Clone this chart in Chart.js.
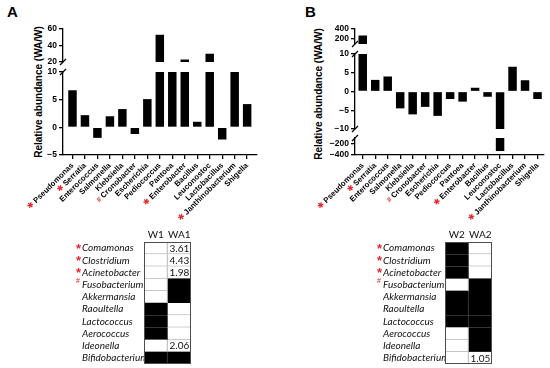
<!DOCTYPE html>
<html>
<head>
<meta charset="utf-8">
<script src="https://cdn.jsdelivr.net/npm/chart.js@4.4.1/dist/chart.umd.min.js"></script>
<style>
  html, body { margin: 0; padding: 0; background: #fff; }
  body { position: relative; width: 550px; height: 368px; overflow: hidden; font-family: "Liberation Sans", Arial, sans-serif; }
  canvas { position: absolute; }
  .letter { position: absolute; font: bold 15px "Liberation Sans", Arial, sans-serif; color: #000; }
  .ytitle { position: absolute; width: 170px; height: 12px; line-height: 12px; text-align: center; white-space: nowrap;
            font: bold 10px "Liberation Sans", Arial, sans-serif; color: #000; transform: rotate(-90deg); transform-origin: 50% 50%; }
</style>
</head>
<body>
<div class="letter" style="left:7px;top:3px">A</div>
<div class="letter" style="left:305px;top:3px">B</div>
<div class="ytitle" style="left:-46px;top:86px">Relative abundance (WA/W)</div>
<div class="ytitle" style="left:234px;top:88px">Relative abundance (WA/W)</div>

<canvas id="aTop" width="262" height="49" style="left:0px;top:21px"></canvas>
<canvas id="aBot" width="262" height="163" style="left:0px;top:64px"></canvas>
<canvas id="bTop" width="259" height="31" style="left:290px;top:21px"></canvas>
<canvas id="bMid" width="259" height="91" style="left:290px;top:46px"></canvas>
<canvas id="bBot" width="259" height="97" style="left:290px;top:130px"></canvas>
<canvas id="tabA" width="138" height="142" style="left:62px;top:228px"></canvas>
<canvas id="tabB" width="138" height="142" style="left:363px;top:228px"></canvas>

<script>
// ── Data ─────────────────────────────────────────────────────────────────
const genera = ['Pseudomonas', 'Serratia', 'Enterococcus', 'Salmonella', 'Klebsiella', 'Cronobacter',
  'Escherichia', 'Pediococcus', 'Pantoea', 'Enterobacter', 'Bacillus', 'Leuconostoc',
  'Lactobacillus', 'Janthinobacterium', 'Shigella'];
const generaMarks = ['*', '*', '', '', '', '#', '', '', '', '*', '', '', '', '*', ''];

// WA1 / W1 ratios (panel A) and WA2 / W2 ratios (panel B)
const valuesA = [6.7, 2.2, -1.9, 2.0, 3.3, -1.2, 5.1, 53, 14, 23, 1.0, 30, -2.2, 12, 4.2];
const valuesB = [270, 3.1, 4.0, -4.5, -6.1, -4.1, -6.5, -2.0, -2.7, 1.0, -1.4, -330, 6.6, 3.0, -2.0];

const ticksATop = [20, 40, 60];
const ticksABot = [-5, 0, 5, 10];
const ticksBTop = [200, 400];
const ticksBMid = [-10, -5, 0, 5, 10];
const ticksBBot = [-400, -200];

const tableRows = ['Comamonas', 'Clostridium', 'Acinetobacter', 'Fusobacterium', 'Akkermansia',
  'Raoultella', 'Lactococcus', 'Aerococcus', 'Ideonella', 'Bifidobacterium'];
const tableMarks = ['*', '*', '*', '#', '', '', '', '', '', ''];

const headersA = ['W1', 'WA1'];
const fillW1  = [0, 0, 0, 0, 0, 1, 1, 1, 0, 1];   // 1 = black cell
const fillWA1 = [0, 0, 0, 1, 1, 0, 0, 0, 0, 1];
const textWA1 = [3.61, 4.43, 1.98, null, null, null, null, null, 2.06, null];

const headersB = ['W2', 'WA2'];
const fillW2  = [1, 1, 1, 0, 1, 1, 1, 0, 0, 0];
const fillWA2 = [0, 0, 0, 1, 1, 1, 1, 1, 1, 0];
const textWA2 = [null, null, null, null, null, null, null, null, null, 1.05];

// ── Shared bits ──────────────────────────────────────────────────────────
const RED = '#e5262d';
const tickFont = { family: 'Liberation Sans', size: 8.5, weight: 'bold' };
const labelFont = { family: 'Liberation Sans', size: 7.8, weight: 'bold' };
const fmt = v => (v < 0 ? '\u2212' + Math.abs(v) : String(v));

const axisBreak = {
  id: 'axisBreak',
  afterDraw(chart, args, opts) {
    const { ctx, chartArea: a } = chart;
    ctx.save();
    ctx.strokeStyle = '#000';
    ctx.lineWidth = 1.3;
    const slash = y => {
      ctx.beginPath();
      ctx.moveTo(a.left - 3, y + 3);
      ctx.lineTo(a.left + 3, y - 3);
      ctx.stroke();
    };
    if (opts.top) slash(a.top);
    if (opts.bottom) slash(a.bottom);
    ctx.restore();
  }
};

// red * / # in front of rotated genus names
const labelMarks = marks => ({
  id: 'labelMarks',
  afterDraw(chart) {
    const scale = chart.scales.x;
    if (!scale.options.display) return;
    const ctx = chart.ctx;
    scale.getLabelItems().forEach((item, i) => {
      const m = marks[i];
      if (!m) return;
      const o = item.options;
      ctx.save();
      ctx.translate(o.translation[0], o.translation[1]);
      ctx.rotate(o.rotation);
      ctx.font = item.font.string;
      const w = ctx.measureText(item.label).width;
      ctx.font = m === '#' ? 'bold 7px "Liberation Sans"' : '8px "DejaVu Sans"';
      ctx.fillStyle = RED;
      ctx.textAlign = 'right';
      ctx.textBaseline = 'middle';
      ctx.fillText(m === '#' ? '#' : '\u2731', -w - 2, item.textOffset);
      ctx.restore();
    });
  }
});

function makeBars(id, values, seg) {
  return new Chart(document.getElementById(id), {
    type: 'bar',
    data: {
      datasets: [{
        data: values.map((v, i) => ({ x: i, y: v })),
        backgroundColor: '#000',
        barPercentage: 0.68,
        categoryPercentage: 1,
        clip: 0
      }]
    },
    options: {
      responsive: false,
      animation: false,
      events: [],
      layout: { padding: { top: 8, right: 5, bottom: seg.showX ? 0 : 8, left: 0 } },
      plugins: {
        legend: { display: false },
        tooltip: { enabled: false },
        axisBreak: { top: !!seg.breakTop, bottom: !!seg.breakBottom }
      },
      scales: {
        x: {
          type: 'linear',
          display: !!seg.showX,
          min: seg.xMin,
          max: seg.xMax,
          offset: false,
          afterBuildTicks: ax => { ax.ticks = genera.map((_, i) => ({ value: i })); },
          afterFit: ax => { ax.height = seg.showX ? 72 : 0; },
          grid: { offset: false, drawOnChartArea: false, tickLength: 4, color: '#000', lineWidth: 1.3 },
          border: { color: '#000', width: 1.3 },
          ticks: {
            autoSkip: false, minRotation: 45, maxRotation: 45, padding: 2,
            font: labelFont, color: '#000',
            callback: v => genera[v]
          }
        },
        y: {
          min: seg.min,
          max: seg.max,
          afterBuildTicks: ax => { ax.ticks = seg.ticks.map(v => ({ value: v })); },
          afterFit: ax => { ax.width = seg.axisWidth; },
          grid: { drawOnChartArea: false, tickLength: 4, color: '#000', lineWidth: 1.3 },
          border: { color: '#000', width: 1.3 },
          ticks: { font: tickFont, color: '#000', padding: 2, callback: fmt }
        }
      }
    },
    plugins: [axisBreak, labelMarks(generaMarks)]
  });
}

// ── Panel A ──────────────────────────────────────────────────────────────
const xA = { xMin: -0.76, xMax: 14.79, axisWidth: 63 };
makeBars('aTop', valuesA, { ...xA, min: 20, max: 60, ticks: ticksATop, breakBottom: true });
makeBars('aBot', valuesA, { ...xA, min: -5, max: 10, ticks: ticksABot, breakTop: true, showX: true });

// ── Panel B ──────────────────────────────────────────────────────────────
const xB = { xMin: -0.62, xMax: 14.52, axisWidth: 65 };
makeBars('bTop', valuesB, { ...xB, min: 100, max: 400, ticks: ticksBTop, breakBottom: true });
makeBars('bMid', valuesB, { ...xB, min: -10, max: 10, ticks: ticksBMid, breakTop: true, breakBottom: true });
makeBars('bBot', valuesB, { ...xB, min: -400, max: -100, ticks: ticksBBot, breakTop: true, showX: true });

// ── Presence tables ──────────────────────────────────────────────────────
const cellText = {
  id: 'cellText',
  afterDatasetsDraw(chart) {
    const ctx = chart.ctx;
    const a = chart.chartArea;
    chart.data.datasets.forEach((ds, di) => {
      if (!ds.cellText) return;
      chart.getDatasetMeta(di).data.forEach((bar, i) => {
        const v = ds.cellText[i];
        if (v == null) return;
        ctx.save();
        ctx.font = '10px Lato';
        ctx.fillStyle = '#111';
        ctx.textBaseline = 'middle';
        ctx.fillText(v.toFixed(2), Math.min(bar.x, bar.base) + 2, bar.y + 0.5);
        ctx.restore();
      });
    });
    ctx.save();
    ctx.strokeStyle = '#4d4d4d';
    ctx.lineWidth = 1;
    ctx.strokeRect(Math.round(a.left) + 0.5, Math.round(a.top) + 0.5,
      Math.round(a.right - a.left) - 1, Math.round(a.bottom - a.top) - 1);
    ctx.restore();
  }
};

const rowMarks = {
  id: 'rowMarks',
  afterDraw(chart) {
    const ctx = chart.ctx;
    chart.scales.y.getLabelItems().forEach((item, i) => {
      const m = tableMarks[i];
      if (!m) return;
      const [x, y] = item.options.translation;
      ctx.save();
      ctx.fillStyle = RED;
      ctx.textAlign = 'right';
      ctx.textBaseline = 'middle';
      if (m === '#') {
        ctx.font = '7px "Liberation Sans"';
        ctx.fillText('#', x - 2, y - 4);
      } else {
        ctx.font = 'bold 13px "Liberation Sans"';
        ctx.fillText('*', x - 1, y + 1);
      }
      ctx.restore();
    });
  }
};

function makeTable(id, headers, fills, texts) {
  return new Chart(document.getElementById(id), {
    type: 'bar',
    data: {
      labels: tableRows,
      datasets: fills.map((f, c) => ({
        data: tableRows.map(() => [c, c + 1]),
        backgroundColor: f.map(v => (v ? '#000' : '#fff')),
        borderColor: f.map(v => (v ? '#000' : '#a9a9a9')),
        borderWidth: { top: 0, left: 0, right: 1, bottom: 1 },
        borderSkipped: false,
        grouped: false,
        barPercentage: 1,
        categoryPercentage: 1,
        cellText: texts[c]
      }))
    },
    options: {
      indexAxis: 'y',
      responsive: false,
      animation: false,
      events: [],
      layout: { padding: { left: 20, right: 9, top: 0, bottom: 6 } },
      plugins: { legend: { display: false }, tooltip: { enabled: false } },
      scales: {
        x: {
          type: 'linear', position: 'top', min: 0, max: 2,
          afterBuildTicks: ax => { ax.ticks = [{ value: 0.5 }, { value: 1.5 }]; },
          afterFit: ax => { ax.height = 14; },
          grid: { display: false, drawTicks: false },
          border: { display: false },
          ticks: { maxRotation: 0, padding: 1, color: '#111', font: { family: 'Lato', size: 10 },
                   callback: v => headers[Math.floor(v)] }
        },
        y: {
          afterFit: ax => { ax.width = 62; },
          grid: { display: false, drawTicks: false },
          border: { display: false },
          ticks: { crossAlign: 'far', padding: 0, autoSkip: false, color: '#111',
                   font: { family: 'Lato', size: 10, style: 'italic' } }
        }
      }
    },
    plugins: [cellText, rowMarks]
  });
}

makeTable('tabA', headersA, [fillW1, fillWA1], [null, textWA1]);
makeTable('tabB', headersB, [fillW2, fillWA2], [null, textWA2]);
</script>
</body>
</html>
